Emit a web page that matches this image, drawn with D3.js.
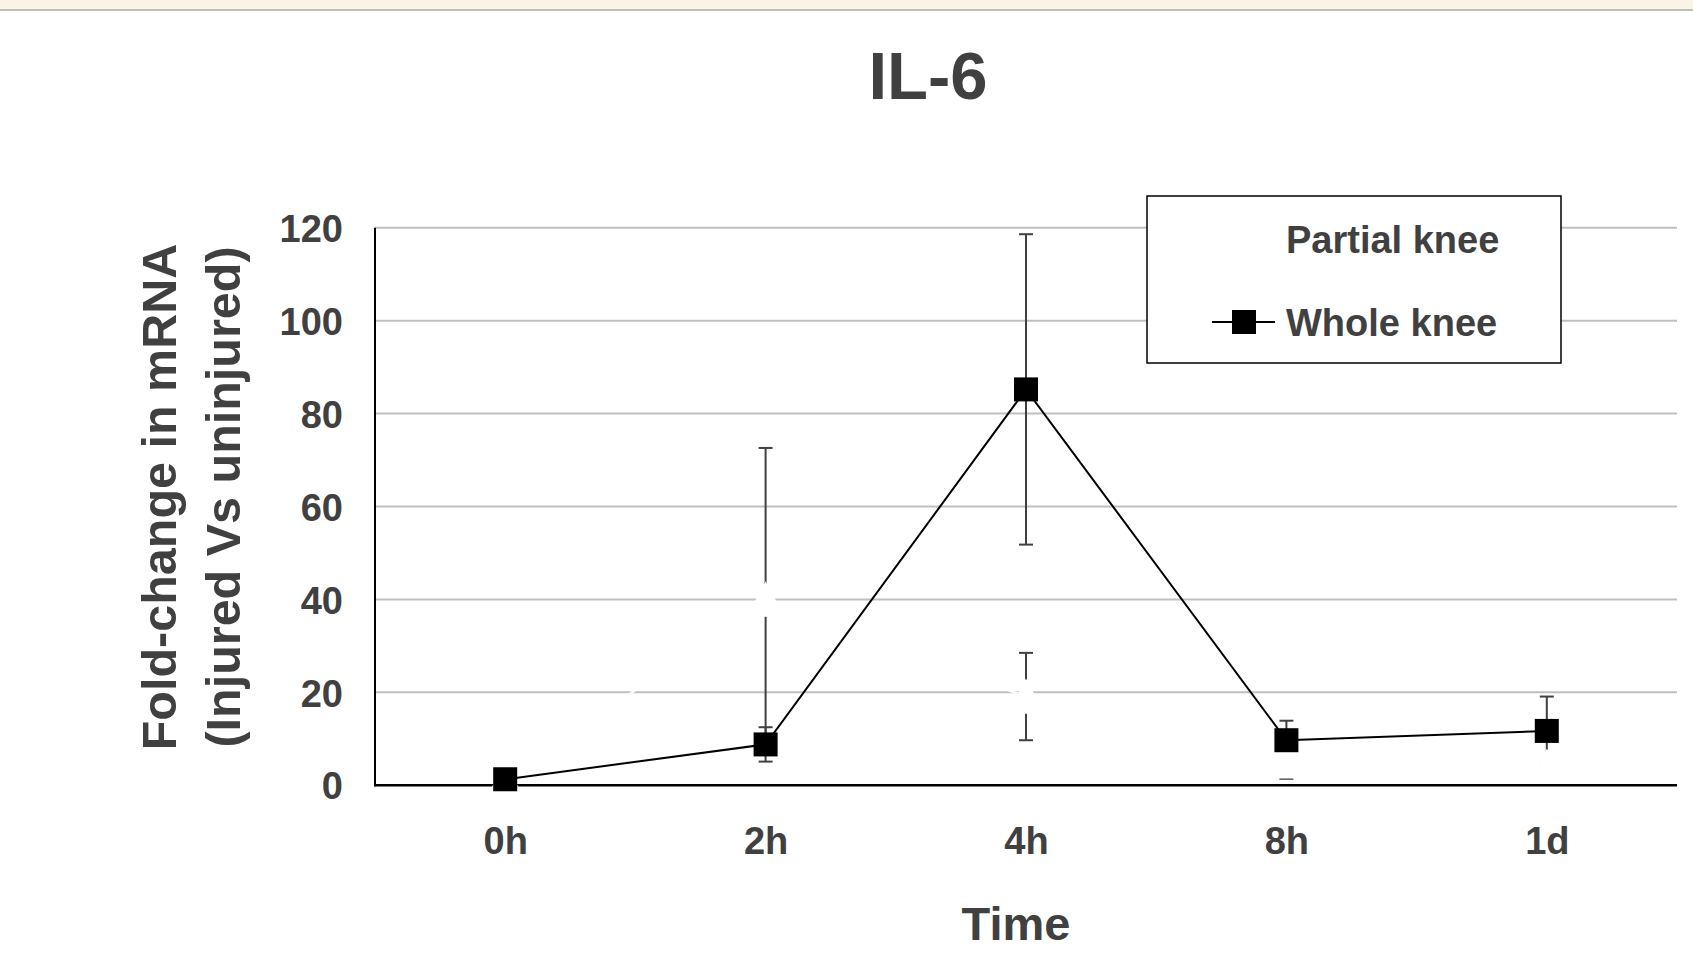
<!DOCTYPE html>
<html>
<head>
<meta charset="utf-8">
<script src="https://cdn.jsdelivr.net/npm/d3@7"></script>
<style>
  html, body { margin: 0; padding: 0; background: #ffffff; }
  svg { display: block; }
  text { font-family: "Liberation Sans", Arial, sans-serif; font-weight: bold; fill: #404040; }
</style>
</head>
<body>
<svg id="chart" width="1693" height="961"></svg>
<script>
// Time points after injury
const categories = ["0h", "2h", "4h", "8h", "1d"];

// IL-6 fold-change (injured vs uninjured), mean and error
const partialKnee = [1, 40, 19.1, 5.2, 4];
const partialErr  = [0, 32.6, 9.4, 3.8, 0.8];
const wholeKnee   = [1.3, 8.8, 85.2, 9.7, 11.7];
const wholeErr    = [0, 3.7, 33.4, 4.2, 7.4];

const yTicks = [0, 20, 40, 60, 80, 100, 120];
const seriesNames = ["Partial knee", "Whole knee"];

const W = 1693, H = 961;
const plot = { left: 375, right: 1677, top: 227.7, bottom: 785.3 };

const svg = d3.select("#chart");

// page header strip
svg.append("rect").attr("x", 0).attr("y", 0).attr("width", W).attr("height", 9).attr("fill", "#fcf4e2");
svg.append("rect").attr("x", 0).attr("y", 9).attr("width", W).attr("height", 2).attr("fill", "#bdbdbd");

const x = d3.scalePoint().domain(categories).range([plot.left, plot.right]).padding(0.5);
const y = d3.scaleLinear().domain([0, 120]).range([plot.bottom, plot.top]);

// horizontal gridlines
svg.append("g")
  .selectAll("line")
  .data(yTicks.filter(d => d > 0))
  .join("line")
  .attr("x1", plot.left).attr("x2", plot.right)
  .attr("y1", d => y(d)).attr("y2", d => y(d))
  .attr("stroke", "#bfbfbf").attr("stroke-width", 2);

// y axis
const yAxis = svg.append("g")
  .attr("transform", `translate(${plot.left},0)`)
  .call(d3.axisLeft(y).tickValues(yTicks).tickSize(0).tickPadding(32));
yAxis.select(".domain").attr("stroke", "#000").attr("stroke-width", 2)
  .attr("d", `M0,${plot.top}V${plot.bottom + 1}`);
yAxis.selectAll("text").style("font-size", "38px").attr("fill", "#404040").attr("dy", "0.36em")
  .style("font-family", "'Liberation Sans', Arial, sans-serif").style("font-weight", "bold");

// x axis
const xAxis = svg.append("g")
  .attr("transform", `translate(0,${plot.bottom})`)
  .call(d3.axisBottom(x).tickSize(0).tickPadding(42));
xAxis.select(".domain").attr("stroke", "#000").attr("stroke-width", 2.5)
  .attr("d", `M${plot.left - 1},0H${plot.right}`);
xAxis.selectAll("text").style("font-size", "38px").attr("fill", "#404040").attr("dy", "0.71em")
  .style("font-family", "'Liberation Sans', Arial, sans-serif").style("font-weight", "bold");

const line = d3.line().x((d, i) => x(categories[i])).y(d => y(d));

function errorBars(g, vals, errs, color) {
  const data = vals.map((v, i) => ({ c: categories[i], lo: v - errs[i], hi: v + errs[i], e: errs[i] }))
    .filter(d => d.e > 0);
  const eg = g.append("g").attr("stroke", color).attr("stroke-width", 2).attr("fill", "none");
  eg.selectAll("line.v").data(data).join("line").attr("class", "v")
    .attr("x1", d => x(d.c)).attr("x2", d => x(d.c))
    .attr("y1", d => y(d.lo)).attr("y2", d => y(d.hi));
  eg.selectAll("line.t").data(data).join("line").attr("class", "t")
    .attr("x1", d => x(d.c) - 7).attr("x2", d => x(d.c) + 7)
    .attr("y1", d => y(d.hi)).attr("y2", d => y(d.hi));
  eg.selectAll("line.b").data(data).join("line").attr("class", "b")
    .attr("x1", d => x(d.c) - 7).attr("x2", d => x(d.c) + 7)
    .attr("y1", d => y(d.lo)).attr("y2", d => y(d.lo));
}

const triangle = (cx, cy, h, w) => `M${cx},${cy - h / 2}L${cx + w / 2},${cy + h / 2}L${cx - w / 2},${cy + h / 2}Z`;

const marks = svg.append("g");

// whole knee error bars sit underneath everything else
errorBars(marks, wholeKnee, wholeErr, "#404040");

// partial knee series: white line, grey error bars, white markers
marks.append("path").datum(partialKnee).attr("d", line)
  .attr("fill", "none").attr("stroke", "#ffffff").attr("stroke-width", 2.5);
errorBars(marks, partialKnee, partialErr, "#404040");
marks.append("g").selectAll("path").data(partialKnee).join("path")
  .attr("d", (d, i) => triangle(x(categories[i]), y(d), 33, 36))
  .attr("fill", "#ffffff").attr("stroke", "#ffffff").attr("stroke-width", 1.5);

// whole knee series: black line with square markers
marks.append("path").datum(wholeKnee).attr("d", line)
  .attr("fill", "none").attr("stroke", "#000").attr("stroke-width", 2);
marks.append("g").selectAll("rect").data(wholeKnee).join("rect")
  .attr("x", (d, i) => x(categories[i]) - 12).attr("y", d => y(d) - 12)
  .attr("width", 24).attr("height", 24).attr("fill", "#000");

// title
svg.append("text").attr("x", 928).attr("y", 99).attr("text-anchor", "middle")
  .style("font-size", "67px").text("IL-6");

// axis titles
svg.append("text").attr("x", 1016).attr("y", 940).attr("text-anchor", "middle")
  .style("font-size", "47px").text("Time");
svg.append("g").attr("transform", "translate(176,497) rotate(-90)")
  .append("text").attr("text-anchor", "middle").style("font-size", "48.5px").text("Fold-change in mRNA");
svg.append("g").attr("transform", "translate(240,497) rotate(-90)")
  .append("text").attr("text-anchor", "middle").style("font-size", "48.5px").text("(Injured Vs uninjured)");

// legend
const lg = svg.append("g");
lg.append("rect").attr("x", 1147).attr("y", 196).attr("width", 414).attr("height", 167)
  .attr("fill", "#ffffff").attr("stroke", "#000").attr("stroke-width", 1.5);
const legendRows = [
  { name: seriesNames[0], cy: 239, color: "#ffffff" },
  { name: seriesNames[1], cy: 322, color: "#000000" }
];
legendRows.forEach((r, i) => {
  lg.append("line").attr("x1", 1212).attr("x2", 1275).attr("y1", r.cy).attr("y2", r.cy)
    .attr("stroke", r.color).attr("stroke-width", 2);
  if (i === 0) {
    lg.append("path").attr("d", triangle(1244, r.cy, 24, 26)).attr("fill", r.color);
  } else {
    lg.append("rect").attr("x", 1232).attr("y", r.cy - 12).attr("width", 24).attr("height", 24).attr("fill", r.color);
  }
  lg.append("text").attr("x", 1286).attr("y", r.cy).attr("dy", "0.36em")
    .style("font-size", "38px").text(r.name);
});
</script>
</body>
</html>
